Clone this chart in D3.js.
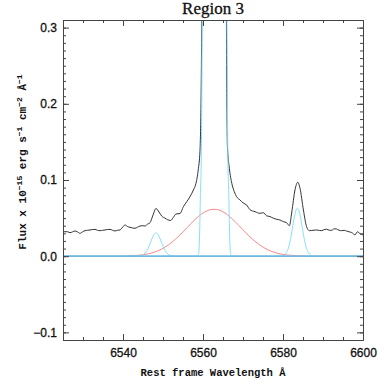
<!DOCTYPE html>
<html>
<head>
<meta charset="utf-8">
<script src="https://cdn.jsdelivr.net/npm/d3@7"></script>
<style>
    body { margin: 0; background: #fff; }
    svg { display: block; }
</style>
</head>
<body>
<div id="chart"></div>
<script>
const width = 382;
const height = 382;

// Observed spectrum [wavelength, flux]
const spectrum = [
    [6525.0, 0.0314], [6525.5, 0.0322], [6526.2, 0.032], [6526.75, 0.0309], [6527.4, 0.032],
    [6528.0, 0.0331], [6528.6, 0.032], [6529.25, 0.0300], [6529.9, 0.032], [6530.5, 0.0335],
    [6531.1, 0.034], [6531.75, 0.0344], [6532.4, 0.035], [6533.0, 0.0352], [6533.6, 0.034],
    [6534.25, 0.0335], [6534.9, 0.034], [6535.5, 0.0344], [6536.1, 0.035], [6536.75, 0.0352],
    [6537.4, 0.034], [6538.0, 0.0331], [6538.6, 0.034], [6539.25, 0.0344], [6539.9, 0.038],
    [6540.5, 0.041], [6541.1, 0.039], [6541.75, 0.0379], [6542.4, 0.037], [6543.0, 0.0366],
    [6543.6, 0.038], [6544.25, 0.0396], [6544.9, 0.040], [6545.5, 0.0396], [6546.1, 0.042],
    [6546.75, 0.044], [6547.5, 0.054], [6548.25, 0.0626], [6549.0, 0.058], [6549.7, 0.0525],
    [6550.5, 0.050], [6551.1, 0.048], [6551.9, 0.0469], [6552.6, 0.051], [6553.25, 0.0554],
    [6554.25, 0.056], [6555.1, 0.065], [6556.0, 0.072], [6556.75, 0.0781], [6557.6, 0.0869],
    [6558.25, 0.0957], [6558.8, 0.113], [6559.25, 0.139], [6559.5, 0.2], [6559.7, 0.31],
    [6560.0, 0.5], [6561.0, 1.0], [6563.0, 1.5], [6565.0, 1.0], [6565.6, 0.5],
    [6565.85, 0.31], [6565.95, 0.22], [6566.1, 0.145], [6566.6, 0.115], [6567.2, 0.0957],
    [6567.8, 0.085], [6568.4, 0.0781], [6569.25, 0.0738], [6570.0, 0.070], [6570.9, 0.0672],
    [6571.75, 0.061], [6573.0, 0.0584], [6574.25, 0.0563], [6575.1, 0.057], [6575.9, 0.053],
    [6576.75, 0.052], [6577.6, 0.0498], [6578.4, 0.0484], [6579.25, 0.0475], [6580.1, 0.0453],
    [6580.9, 0.044], [6581.6, 0.040], [6582.2, 0.058], [6583.0, 0.087], [6583.7, 0.097],
    [6584.25, 0.089], [6585.1, 0.0607], [6585.9, 0.0387], [6586.6, 0.0335], [6587.5, 0.034],
    [6588.4, 0.0344], [6589.1, 0.0338], [6589.7, 0.0335], [6590.3, 0.035], [6590.9, 0.0353],
    [6591.6, 0.034], [6592.2, 0.034], [6592.8, 0.036], [6593.4, 0.0357], [6594.0, 0.034],
    [6594.7, 0.0335], [6595.3, 0.034], [6595.9, 0.033], [6596.5, 0.032], [6597.2, 0.031],
    [6598.0, 0.028], [6598.6, 0.032], [6599.4, 0.029], [6600.0, 0.028]
];

// Narrow components (cyan): [NII]6548, Halpha narrow, [NII]6583
const narrow6548 = [
    [6525.0, 0], [6543.0, 0], [6544.0, 0.0002], [6544.5, 0.0006], [6545.0, 0.0017],
    [6545.5, 0.0038], [6546.0, 0.0076], [6546.5, 0.0131], [6547.0, 0.0198], [6547.5, 0.0261],
    [6548.0, 0.0299], [6548.25, 0.0304], [6548.5, 0.0299], [6549.0, 0.0261], [6549.5, 0.0198],
    [6550.0, 0.0131], [6550.5, 0.0076], [6551.0, 0.0038], [6551.5, 0.0017], [6552.0, 0.0006],
    [6552.5, 0.0002], [6553.5, 0], [6600.0, 0]
];
const narrowHa = [
    [6525.0, 0], [6558.0, 0], [6558.6, 0.0005], [6558.85, 0.002], [6559.1, 0.02],
    [6559.35, 0.08], [6559.6, 0.139], [6559.8, 0.31], [6560.0, 0.6], [6560.5, 2.5],
    [6565.3, 2.5], [6565.8, 0.6], [6566.0, 0.31], [6566.2, 0.139], [6566.45, 0.08],
    [6566.7, 0.02], [6566.95, 0.002], [6567.2, 0.0005], [6567.8, 0], [6600.0, 0]
];
const narrow6583 = [
    [6525.0, 0], [6579.0, 0], [6579.35, 0.0001], [6579.85, 0.0005], [6580.35, 0.0016],
    [6580.85, 0.0046], [6581.35, 0.0108], [6581.85, 0.0217], [6582.35, 0.0366], [6582.85, 0.0518],
    [6583.35, 0.0615], [6583.6, 0.0629], [6583.85, 0.0615], [6584.35, 0.0518], [6584.85, 0.0366],
    [6585.35, 0.0217], [6585.85, 0.0108], [6586.35, 0.0046], [6586.85, 0.0016], [6587.35, 0.0005],
    [6587.85, 0.0001], [6588.5, 0], [6600.0, 0]
];

// Broad Halpha component (red)
const broadHa = [
    [6525.0, 0], [6535.0, 0], [6540.0, 0.0002], [6544.0, 0.0013], [6546.0, 0.0028],
    [6548.0, 0.0056], [6550.0, 0.0103], [6552.0, 0.0173], [6554.0, 0.0266], [6556.0, 0.0374],
    [6558.0, 0.0481], [6560.0, 0.0567], [6562.0, 0.0612], [6562.75, 0.0616], [6564.0, 0.0606],
    [6566.0, 0.0549], [6568.0, 0.0455], [6570.0, 0.0346], [6572.0, 0.0241], [6574.0, 0.0154],
    [6576.0, 0.0090], [6578.0, 0.0048], [6580.0, 0.0023], [6582.0, 0.0011], [6586.0, 0.0002],
    [6590.0, 0], [6600.0, 0]
];

const zeroLine = [[6525, 0], [6600, 0]];

// Axis ticks
const xMajorTicks = [6540, 6560, 6580, 6600];
const xMinorTicks = d3.range(6525, 6601, 5);
const yMajorTicks = [-0.1, 0.0, 0.1, 0.2, 0.3];
const yMinorTicks = d3.range(-11, 32).map(d => d / 100);

const titleText = "Region 3";

drawChart();

function drawChart() {
    const plot = { left: 63, right: 363, top: 20, bottom: 340 };

    const svg = d3.select('#chart')
        .append('svg')
        .attr('width', width)
        .attr('height', height);

    const scaleX = d3.scaleLinear()
        .domain([6525, 6600])
        .range([plot.left, plot.right]);
    const scaleY = d3.scaleLinear()
        .domain([-0.11, 0.31])
        .range([plot.bottom, plot.top]);

    svg.append('defs')
        .append('clipPath')
        .attr('id', 'plotclip')
        .append('rect')
        .attr('x', plot.left)
        .attr('y', plot.top)
        .attr('width', plot.right - plot.left)
        .attr('height', plot.bottom - plot.top);

    const line = d3.line()
        .x(d => scaleX(d[0]))
        .y(d => scaleY(d[1]))
        .curve(d3.curveMonotoneX);

    const lines = svg.append('g').attr('clip-path', 'url(#plotclip)');

    lines.append('path')
        .attr('d', line(spectrum))
        .attr('fill', 'none')
        .attr('stroke', '#333')
        .attr('stroke-width', 1);

    lines.append('path')
        .attr('d', line(broadHa))
        .attr('fill', 'none')
        .attr('stroke', '#ff8a8a')
        .attr('stroke-width', 1);

    [narrow6548, narrowHa, narrow6583].forEach(comp => {
        lines.append('path')
            .attr('d', line(comp))
            .attr('fill', 'none')
            .attr('stroke', '#84e0ff')
            .attr('stroke-width', 1);
    });

    lines.append('path')
        .attr('d', line(zeroLine))
        .attr('fill', 'none')
        .attr('stroke', '#6aaad2')
        .attr('stroke-width', 1.2);

    //Axes: ticks point inward on all four sides
    const axisColor = '#444';
    const noLabel = () => '';

    const addAxis = (axis, tx, ty) => {
        const g = svg.append('g')
            .attr('transform', `translate(${tx}, ${ty})`)
            .call(axis);
        g.select('.domain').attr('stroke', axisColor);
        g.selectAll('.tick line').attr('stroke', axisColor);
        g.selectAll('.tick text')
            .attr('fill', '#111')
            .attr('stroke', '#111')
            .attr('stroke-width', 0.3)
            .style('font-family', '"Liberation Sans", Arial, sans-serif')
            .style('font-size', '12px');
        return g;
    };

    // bottom
    addAxis(d3.axisBottom(scaleX).tickValues(xMinorTicks).tickSize(-3).tickSizeOuter(0).tickFormat(noLabel), 0, plot.bottom);
    addAxis(d3.axisBottom(scaleX).tickValues(xMajorTicks).tickSize(-6).tickSizeOuter(0).tickPadding(8).tickFormat(d3.format('d')), 0, plot.bottom);
    // top
    addAxis(d3.axisTop(scaleX).tickValues(xMinorTicks).tickSize(-3).tickSizeOuter(0).tickFormat(noLabel), 0, plot.top);
    addAxis(d3.axisTop(scaleX).tickValues(xMajorTicks).tickSize(-6).tickSizeOuter(0).tickFormat(noLabel), 0, plot.top);
    // left
    addAxis(d3.axisLeft(scaleY).tickValues(yMinorTicks).tickSize(-3).tickSizeOuter(0).tickFormat(noLabel), plot.left, 0);
    addAxis(d3.axisLeft(scaleY).tickValues(yMajorTicks).tickSize(-6).tickSizeOuter(0).tickPadding(6).tickFormat(d3.format('.1f')), plot.left, 0);
    // right
    addAxis(d3.axisRight(scaleY).tickValues(yMinorTicks).tickSize(-3).tickSizeOuter(0).tickFormat(noLabel), plot.right, 0);
    addAxis(d3.axisRight(scaleY).tickValues(yMajorTicks).tickSize(-6).tickSizeOuter(0).tickFormat(noLabel), plot.right, 0);

    //Title
    svg.append('text')
        .attr('x', (plot.left + plot.right) / 2)
        .attr('y', 14)
        .attr('text-anchor', 'middle')
        .style('font-family', '"Liberation Serif", "DejaVu Serif", serif')
        .style('font-size', '17px')
        .attr('fill', '#111')
        .attr('stroke', '#111')
        .attr('stroke-width', 0.3)
        .text(titleText);

    //X axis title
    svg.append('text')
        .attr('x', (plot.left + plot.right) / 2)
        .attr('y', 376)
        .attr('text-anchor', 'middle')
        .style('font-family', '"Liberation Mono", "DejaVu Sans Mono", monospace')
        .style('font-weight', 'bold')
        .style('font-size', '10.5px')
        .attr('fill', '#111')
        .text('Rest frame Wavelength Å');

    //Y axis title with superscripts
    const yTitle = svg.append('text')
        .attr('transform', 'translate(26, 162) rotate(-90)')
        .attr('text-anchor', 'middle')
        .style('font-family', '"Liberation Mono", "DejaVu Sans Mono", monospace')
        .style('font-weight', 'bold')
        .style('font-size', '11px')
        .attr('fill', '#111');
    const parts = [
        ['Flux x 10', false], ['\u221215', true], [' erg s', false], ['\u22121', true],
        [' cm', false], ['\u22122', true], [' Å', false], ['\u22121', true]
    ];
    parts.forEach(([txt, sup], i) => {
        const t = yTitle.append('tspan').text(txt);
        if (sup) {
            t.attr('dy', -4).style('font-size', '8px');
        } else if (i > 0) {
            // back to the baseline after a superscript
            t.attr('dy', 4);
        }
    });
}
</script>
</body>
</html>
